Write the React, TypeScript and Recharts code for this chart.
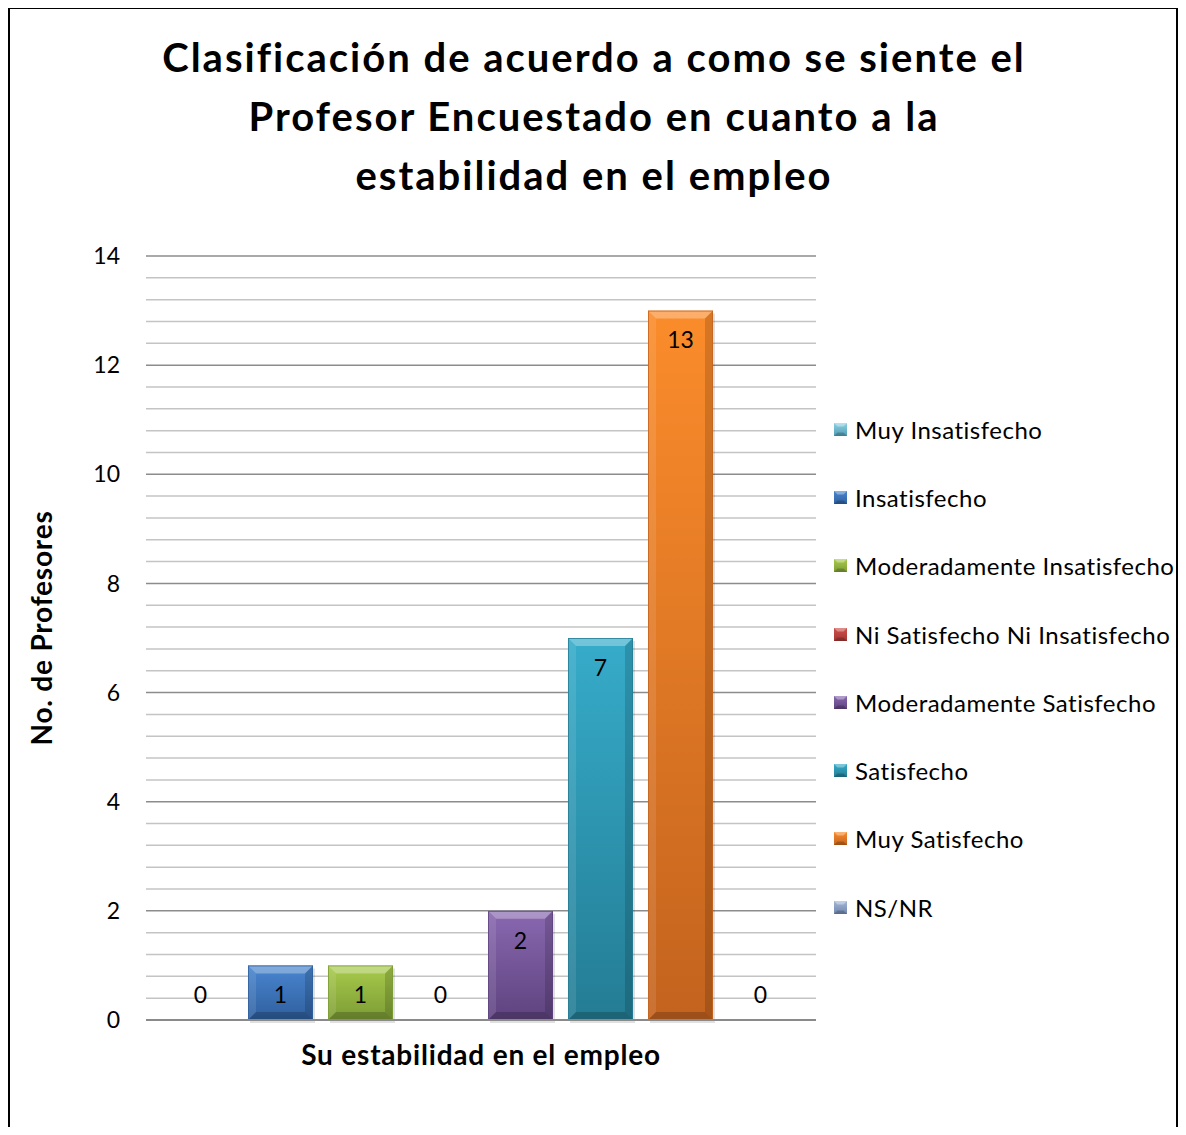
import React from 'react';
import { BarChart, Bar, XAxis, YAxis, CartesianGrid, Legend } from 'recharts';

const TITLE_LINES = [
  'Clasificación de acuerdo a como se siente el',
  'Profesor Encuestado en cuanto a la',
  'estabilidad en el empleo',
];
const CATEGORIES = ['Su estabilidad en el empleo'];
const SERIES_NAMES = [
  'Muy Insatisfecho',
  'Insatisfecho',
  'Moderadamente Insatisfecho',
  'Ni Satisfecho Ni Insatisfecho',
  'Moderadamente Satisfecho',
  'Satisfecho',
  'Muy Satisfecho',
  'NS/NR',
];
const SERIES_VALUES = [0, 1, 1, 0, 2, 7, 13, 0];
const Y_TICKS = [0, 2, 4, 6, 8, 10, 12, 14];
const Y_LABEL = 'No. de Profesores';

const COLORS_TOP = ['#8fd0e3', '#4a86d0', '#a8cb4c', '#d0504c', '#8968b0', '#36acca', '#fb8c2b', '#a3b7d8'];
const COLORS_BOTTOM = ['#4f9db3', '#2f5f9e', '#7c9c34', '#a33532', '#5e437f', '#247c94', '#c3631e', '#6f86ac'];

const FONT = 'Lato, "Open Sans", sans-serif';

const data = CATEGORIES.map((name) => {
  const row: Record<string, number | string> = { name };
  SERIES_NAMES.forEach((_, i) => {
    row['s' + i] = SERIES_VALUES[i];
  });
  return row;
});

const MINOR_TICKS: number[] = [];
for (let i = 0; i < Y_TICKS.length - 1; i++) {
  const a = Y_TICKS[i];
  const b = Y_TICKS[i + 1];
  for (let k = 1; k < 5; k++) MINOR_TICKS.push(a + ((b - a) * k) / 5);
}

const BevelBar = (props: any) => {
  const { x, y, width: w, height: h, idx } = props;
  if (!h || h <= 0) return <g />;
  const b = Math.min(8, h / 2, w / 2);
  const gid = 'grad' + idx;
  return (
    <g>
      <defs>
        <linearGradient id={gid} x1="0" y1="0" x2="0" y2="1">
          <stop offset="0%" stopColor={COLORS_TOP[idx]} />
          <stop offset="100%" stopColor={COLORS_BOTTOM[idx]} />
        </linearGradient>
      </defs>
      <rect x={x + 2} y={y + 3} width={w} height={h} fill="#000" opacity={0.12} />
      <rect x={x} y={y} width={w} height={h} fill={`url(#${gid})`} />
      <polygon points={`${x},${y} ${x + w},${y} ${x + w - b},${y + b} ${x + b},${y + b}`} fill="#fff" opacity={0.3} />
      <polygon points={`${x},${y} ${x + b},${y + b} ${x + b},${y + h - b} ${x},${y + h}`} fill="#fff" opacity={0.1} />
      <polygon points={`${x + w},${y} ${x + w - b},${y + b} ${x + w - b},${y + h - b} ${x + w},${y + h}`} fill="#000" opacity={0.15} />
      <polygon points={`${x},${y + h} ${x + b},${y + h - b} ${x + w - b},${y + h - b} ${x + w},${y + h}`} fill="#000" opacity={0.2} />
      <rect x={x + 0.5} y={y + 0.5} width={w - 1} height={h - 1} fill="none" stroke={COLORS_BOTTOM[idx]} strokeWidth={1} opacity={0.8} />
    </g>
  );
};

const renderValueLabel = (p: any) => {
  const { x, y, width, value } = p;
  const cy = value > 0 ? y + 29.5 : y - 25;
  return (
    <text x={x + width / 2} y={cy} dy="0.36em" textAnchor="middle" fontFamily={FONT} fontSize={23} fill="#000">
      {value}
    </text>
  );
};

const LegendIcon = ({ idx }: { idx: number }) => (
  <svg width={13} height={13} style={{ display: 'block' }}>
    <defs>
      <linearGradient id={'lg' + idx} x1="0" y1="0" x2="0" y2="1">
        <stop offset="0%" stopColor={COLORS_TOP[idx]} />
        <stop offset="100%" stopColor={COLORS_BOTTOM[idx]} />
      </linearGradient>
    </defs>
    <rect x={0} y={0} width={13} height={13} fill={`url(#lg${idx})`} />
    <polygon points="0,0 13,0 9.5,3.5 3.5,3.5" fill="#fff" opacity={0.35} />
    <polygon points="0,13 3.5,9.5 9.5,9.5 13,13" fill="#000" opacity={0.2} />
  </svg>
);

const renderLegend = () => (
  <div style={{ fontFamily: FONT, fontSize: 24, letterSpacing: 0.5, color: '#000' }}>
    {SERIES_NAMES.map((n, i) => (
      <div key={n} style={{ display: 'flex', alignItems: 'center', height: 68.3, whiteSpace: 'nowrap' }}>
        <LegendIcon idx={i} />
        <span style={{ marginLeft: 8 }}>{n}</span>
      </div>
    ))}
  </div>
);

const renderYLabel = () => (
  <text
    x={34}
    y={620}
    transform="rotate(-90 34 620)"
    textAnchor="middle"
    dy="0.35em"
    fontFamily={FONT}
    fontWeight={700}
    fontSize={28}
    letterSpacing={0.8}
    fill="#000"
  >
    {Y_LABEL}
  </text>
);

export default function App() {
  const W = 1168;
  const H = 1119;
  return (
    <div style={{ position: 'relative', width: W, height: H, background: '#fff' }}>
      <div
        style={{
          position: 'absolute',
          left: 0,
          top: -1,
          width: 1171,
          height: H + 9,
          borderLeft: '2px solid #000',
          borderTop: '2px solid #000',
          borderRight: '3px solid #000',
          boxSizing: 'border-box',
        }}
      />
      <div
        style={{
          position: 'absolute',
          left: 0,
          top: 20,
          width: 1172,
          textAlign: 'center',
          fontFamily: FONT,
          fontWeight: 700,
          fontSize: 40,
          letterSpacing: 2,
          lineHeight: '59px',
          color: '#000',
        }}
      >
        {TITLE_LINES.map((l) => (
          <div key={l}>{l}</div>
        ))}
      </div>
      <div style={{ position: 'absolute', left: 0, top: 0 }}>
        <BarChart
          width={W}
          height={H}
          data={data}
          margin={{ top: 248, right: 360, bottom: 47, left: 68 }}
          barCategoryGap={22}
          barGap={15}
        >
          <CartesianGrid vertical={false} horizontalValues={MINOR_TICKS} stroke="#c4c4c4" strokeWidth={1.5} />
          <CartesianGrid vertical={false} horizontalValues={Y_TICKS} stroke="#8c8c8c" strokeWidth={1.5} />
          <XAxis
            dataKey="name"
            height={60}
            tickLine={false}
            tickSize={0}
            tickMargin={25}
            axisLine={{ stroke: '#8a8a8a', strokeWidth: 2 }}
            tick={{ fontFamily: FONT, fontWeight: 700, fontSize: 28, letterSpacing: 0.8, fill: '#000' }}
          />
          <YAxis
            width={70}
            domain={[0, 14]}
            ticks={Y_TICKS}
            interval={0}
            axisLine={false}
            tickLine={false}
            tickSize={0}
            tickMargin={26}
            tick={{ fontFamily: FONT, fontSize: 23, fill: '#000' }}
            label={renderYLabel}
          />
          <Legend
            layout="vertical"
            align="center"
            verticalAlign="middle"
            content={renderLegend}
            wrapperStyle={{ position: 'absolute', left: 826, top: 387, width: 342, height: 560 }}
          />
          {SERIES_NAMES.map((n, i) => (
            <Bar
              key={n}
              dataKey={'s' + i}
              name={n}
              fill={COLORS_TOP[i]}
              isAnimationActive={false}
              shape={(p: any) => <BevelBar {...p} idx={i} />}
              label={renderValueLabel}
            />
          ))}
        </BarChart>
      </div>
    </div>
  );
}
